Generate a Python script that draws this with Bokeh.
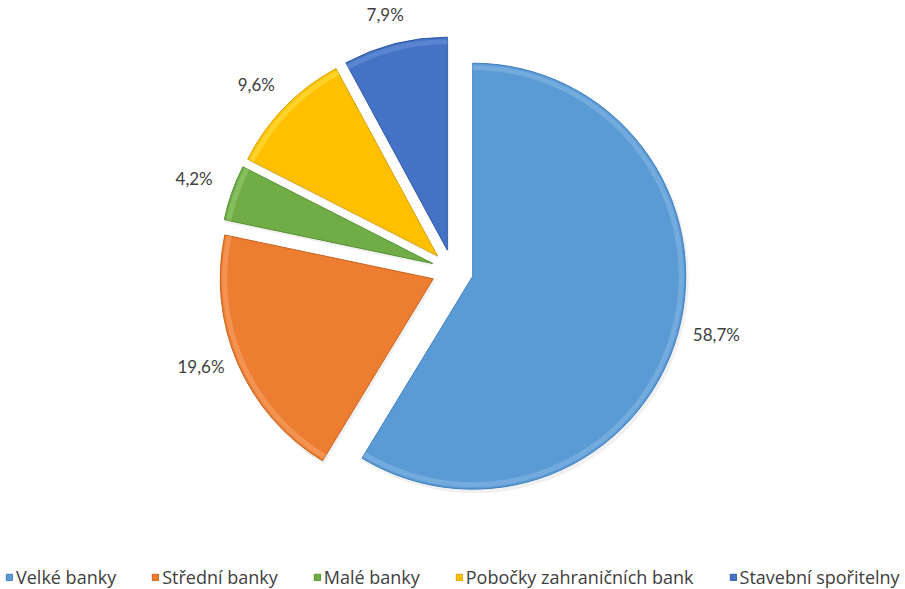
import math
from bokeh.plotting import figure
from bokeh.models import Range1d, Legend, LegendItem, ColumnDataSource
from bokeh.embed import file_html
from bokeh.resources import INLINE
from bokeh.core.properties import value

# ---- data ----
categories = ["Velké banky", "Střední banky", "Malé banky",
              "Pobočky zahraničních bank", "Stavební spořitelny"]
shares = [58.7, 19.6, 4.2, 9.6, 7.9]
share_labels = ["58,7%", "19,6%", "4,2%", "9,6%", "7,9%"]
colors = ["#5B9BD5", "#ED7D31", "#70AD47", "#FFC000", "#4472C4"]
rim_colors = ["#86B8E6", "#F7A56E", "#98CC72", "#FFE04A", "#6C93DA"]
edge_colors = ["#3F7FBF", "#C9621C", "#55902F", "#D9A300", "#2F58A6"]

# ---- layout ----
W, H = 905, 589
CX, CY = 452, H - 270
R = 213
EXPLODE = 21
LABEL_GAP = 16
LABEL_DY = 6
SHADOW_DX, SHADOW_DY = 2, -3
FONT = "Lato"
LEGEND_FONT = "Open Sans"

total = sum(shares)
xs, ys, sxs, sys_, sa, ea, lx, ly = [], [], [], [], [], [], [], []
acc = 0.0
for s in shares:
    t0 = acc / total * 360.0
    acc += s
    t1 = acc / total * 360.0
    mid = math.radians(90 - (t0 + t1) / 2)
    dx, dy = math.cos(mid), math.sin(mid)
    vx, vy = CX + EXPLODE * dx, CY + EXPLODE * dy
    xs.append(vx); ys.append(vy)
    sxs.append(vx + SHADOW_DX); sys_.append(vy + SHADOW_DY)
    sa.append(math.radians(90 - t0)); ea.append(math.radians(90 - t1))
    lx.append(vx + (R + LABEL_GAP) * dx + 24 * dx)
    ly.append(vy + (R + LABEL_GAP) * dy + 8 * dy + LABEL_DY)

src = ColumnDataSource(dict(x=xs, y=ys, sx=sxs, sy=sys_, sa=sa, ea=ea,
                            color=colors, rim=rim_colors, edge=edge_colors,
                            lx=lx, ly=ly, lab=share_labels, cat=categories))

p = figure(width=W, height=H, output_backend="svg", toolbar_location=None,
           x_range=Range1d(0, W), y_range=Range1d(0, H),
           x_axis_type=None, y_axis_type=None, min_border=0,
           outline_line_color=None, background_fill_color="white",
           border_fill_color="white")
p.grid.visible = False

# soft shadow
p.wedge(x="sx", y="sy", radius=R + 1, start_angle="sa", end_angle="ea",
        direction="clock", source=src, fill_color="#000000", fill_alpha=0.06,
        line_color=None)

main = p.wedge(x="x", y="y", radius=R, start_angle="sa", end_angle="ea",
               direction="clock", source=src, fill_color="color",
               line_color="edge", line_width=1)
# bevel highlight near the rim
p.annular_wedge(x="x", y="y", inner_radius=R - 7, outer_radius=R - 2,
                start_angle="sa", end_angle="ea", direction="clock",
                source=src, fill_color="rim", fill_alpha=0.55, line_color=None)

p.text(x="lx", y="ly", text="lab", source=src, text_align="center",
       text_baseline="middle", text_font=value(FONT), text_font_size="17px",
       text_color="#404040")

items = [LegendItem(label=c, renderers=[main], index=i)
         for i, c in enumerate(categories)]
legend = Legend(items=items, orientation="horizontal", location=(5, 0),
                glyph_width=8, glyph_height=8, label_standoff=3, spacing=35,
                padding=0, margin=0, background_fill_alpha=0,
                border_line_alpha=0, label_text_font=LEGEND_FONT,
                label_text_font_size="18px", label_text_color="#404040",
                label_height=20)
p.add_layout(legend)

open("out.html", "w").write(file_html(p, INLINE))
